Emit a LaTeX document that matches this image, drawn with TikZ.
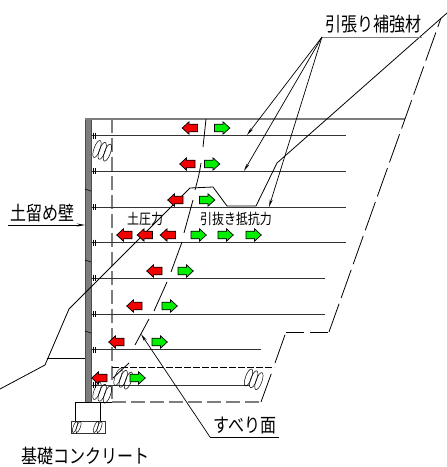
\documentclass[tikz,border=0pt]{standalone}
\usepackage{fontspec}
\usetikzlibrary{arrows.meta}
\newfontfamily\cjk{Noto Sans CJK JP}
\definecolor{wallgray}{RGB}{125,125,125}
\definecolor{redarrow}{RGB}{245,0,0}
\definecolor{greenarrow}{RGB}{0,240,0}
\newcommand{\tall}[1]{\scalebox{1}[1.22]{#1}}
\tikzset{
  wire/.style={line width=0.9pt,draw=black!80},
  thin wire/.style={line width=0.8pt,black},
  leader/.style={line width=0.7pt,black,-{Stealth[length=8pt,width=3pt]}},
  longdash/.style={line width=0.8pt,black,dash pattern=on 30pt off 6pt},
  graydash/.style={line width=1.2pt,wallgray,dash pattern=on 14pt off 5pt},
  lab/.style={font=\cjk\fontsize{16}{16}\selectfont,inner sep=0pt},
  smalllab/.style={font=\cjk\fontsize{12}{12}\selectfont,inner sep=0pt},
  coil/.pic={\foreach \k in {0,1,2}{\draw[line width=0.5pt,black] (\k*5.2,\k*1.8) ellipse[x radius=3pt,y radius=9pt,rotate=-20];}},
  rightblock/.pic={\draw[line width=0.7pt,black,fill=greenarrow] (-7.5,-3.8) -- (1,-3.8) -- (1,-6.2) -- (7.8,0) -- (1,6.2) -- (1,3.8) -- (-7.5,3.8) -- cycle;},
  leftblock/.pic={\draw[line width=0.7pt,black,fill=redarrow] (7.5,-3.8) -- (-1,-3.8) -- (-1,-6.2) -- (-7.8,0) -- (-1,6.2) -- (-1,3.8) -- (7.5,3.8) -- cycle;}
}
\begin{document}
\begin{tikzpicture}[x=1pt,y=-1pt]
\useasboundingbox (0,0) rectangle (447,467);
% wall and strips
\fill[wallgray,draw=black!70,line width=0.4pt] (85,119) rectangle (91,402);
\draw[line width=1.2pt,wallgray] (85,119) -- (405,119);
\draw[graydash] (112,119) -- (112,402);
\draw[graydash] (112,402) -- (261,402);
\draw[line width=0.8pt,black,dash pattern=on 7pt off 2pt] (112,367) -- (274,367);
\foreach \y/\e in {135.5/346,171/346,207/346,242.5/346,278/325,314/325,349.5/261,385/250}{
  \draw[wire] (91,\y) -- (\e,\y);
  \draw[line width=0.6pt] (93,\y-3) -- (93,\y+3) (95.5,\y-3) -- (95.5,\y+3);
}
\foreach \y in {190,261,332}{\draw[line width=0.6pt] (85,\y-1) .. controls (87,\y+1) and (89,\y-1) .. (91,\y+1);}
% face of the fill
\draw[longdash] (261,402) -- (273,369);
\draw[longdash] (275,363) -- (286,332);
\draw[line width=0.8pt,black,dash pattern=on 18pt off 6pt] (286,332) -- (329,332);
\draw[longdash] (329,332) -- (441,18);
% ground line
\draw[thin wire] (0,389) -- (45,365) -- (69,309) -- (190,188) -- (213,187) -- (227,206) -- (256,206) -- (277,163) -- (447,13);
\draw[thin wire] (47,358.5) -- (85,358.5);
% slip surface
\draw[thin wire] (206,119) -- (203,147);
\draw[thin wire] (201,163) .. controls (199,175) .. (195,190);
\draw[thin wire] (193,200) -- (184,233);
\draw[thin wire] (182,242) -- (171,272);
\draw[thin wire] (167,282) -- (154,311);
\draw[thin wire] (149,319) -- (135,345);
\draw[thin wire] (129,363) -- (113,378);
% coils
\pic at (97,149) {coil};
\pic at (118,377) {coil};
\pic at (97,391) {coil};
\pic at (248.5,377.5) {coil};
% foundation
\draw[thin wire] (75,402) -- (112,402);
\draw[thin wire] (75,402) -- (75,421) (100,402) -- (100,421);
\draw[line width=0.9pt,black!80] (71,421) rectangle (105,433);
\foreach \x in {75,96}{
  \draw[line width=0.45pt] (\x,427) ellipse[x radius=1.8pt,y radius=6pt,rotate=-20];
  \draw[line width=0.45pt] (\x+3.5,427) ellipse[x radius=1.8pt,y radius=6pt,rotate=-20];
}
% arrows
\foreach \x/\y in {190/128,187.5/164,175.5/200,124.5/235,145/235,168/235,154.5/271,134.5/306,116.5/342,99.5/378}{
  \pic at (\x,\y) {leftblock};
}
\foreach \x/\y in {222/128,212/164,207/200,198.5/235,225.5/235,253.5/235,185.5/271,169.5/306,159.5/342,137.5/378}{
  \pic at (\x,\y) {rightblock};
}
% labels
\node[lab] (tensile) at (373.5,24) {\tall{引張り補強材}};
\coordinate (tj) at (322,37);
\coordinate (tk) at (422,37);
\coordinate (t1) at (247,135);
\coordinate (t2) at (244,171);
\coordinate (t3) at (269,207);
\draw[line width=1pt,wallgray] (tj) -- (tk);
\draw[leader] (tj) -- (t1);
\draw[leader] (tj) -- (t2);
\draw[leader] (tj) -- (t3);
\node[lab] (wall) at (42.5,213) {\tall{土留め壁}};
\coordinate (wl) at (8,225);
\coordinate (wt) at (85,225);
\draw[leader] (wl) -- (wt);
\node[smalllab] (earth) at (145,219) {\tall{土圧力}};
\node[smalllab] (pull) at (236,219) {\tall{引抜き抵抗力}};
\node[lab] (slip) at (245,426) {\tall{すべり面}};
\coordinate (sl) at (279,437);
\coordinate (sk) at (210,437);
\coordinate (st) at (141,334);
\draw[line width=0.8pt,black] (sl) -- (sk);
\draw[leader] (sk) -- (st);
\node[lab] (base) at (86,456) {\tall{基礎コンクリート}};
\end{tikzpicture}
\end{document}
